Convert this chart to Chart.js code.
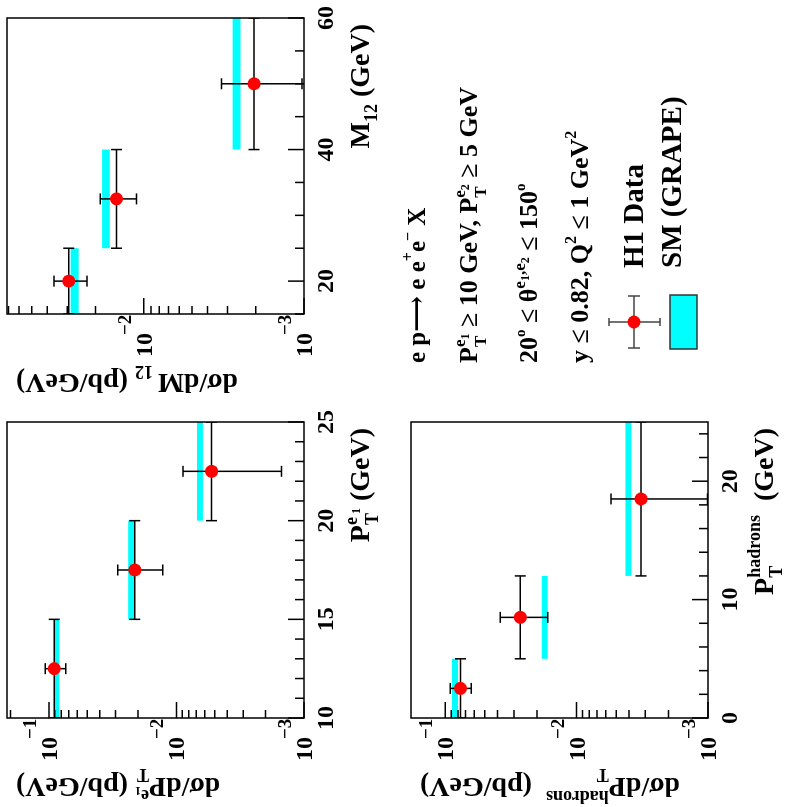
<!DOCTYPE html>
<html>
<head>
<meta charset="utf-8">
<script src="https://cdn.jsdelivr.net/npm/chart.js@4/dist/chart.umd.min.js"></script>
<style>
  body { margin: 0; background: #fff; overflow: hidden; }
  #page { position: absolute; left: 0; top: 807px; width: 807px; height: 785px;
          transform-origin: 0 0; transform: rotate(-90deg); background: #fff; }
  #page canvas { position: absolute; left: 0; top: 0; }
</style>
</head>
<body>
<div id="page">
  <canvas id="cE" width="807" height="785"></canvas>
  <canvas id="cM" width="807" height="785"></canvas>
  <canvas id="cH" width="807" height="785"></canvas>
</div>
<script>
// dsigma/dPT(e1)
const ptE_x = [12.5, 17.5, 22.5];
const ptE_binLo = [10, 15, 20];
const ptE_binHi = [15, 20, 25];
const ptE_y = [0.0908, 0.0212, 0.0053];
const ptE_yHi = [0.107, 0.0289, 0.0089];
const ptE_yLo = [0.0736, 0.0128, 0.0015];
const ptE_smLo = [0.0829, 0.0214, 0.0062];
const ptE_smHi = [0.0908, 0.0239, 0.0069];
const ptE_xLabels = [10, 15, 20, 25];

// dsigma/dM12
const m12_x = [20, 32.5, 50];
const m12_binLo = [15, 25, 40];
const m12_binHi = [25, 40, 60];
const m12_y = [0.0294, 0.0148, 0.00205];
const m12_yHi = [0.0364, 0.0187, 0.00327];
const m12_yLo = [0.0226, 0.0111, 0.00103];
const m12_smLo = [0.0255, 0.0163, 0.00249];
const m12_smHi = [0.0286, 0.0182, 0.00279];
const m12_xLabels = [20, 40, 60];

// dsigma/dPT(hadrons)
const ptH_x = [2.5, 8.5, 18.5];
const ptH_binLo = [0, 5, 12];
const ptH_binHi = [5, 12, 25];
const ptH_y = [0.0766, 0.0268, 0.00323];
const ptH_yHi = [0.0914, 0.0381, 0.00548];
const ptH_yLo = [0.0632, 0.0166, 0.00101];
const ptH_smLo = [0.0798, 0.0166, 0.00383];
const ptH_smHi = [0.0888, 0.0184, 0.00425];
const ptH_xLabels = [0, 10, 20];

const yDecades = [-1, -2, -3];

const W = 807, H = 785;
const FONT = '"Liberation Serif", "DejaVu Serif", serif';
function f(size) { return 'bold ' + size + 'px ' + FONT; }

// text in pieces: [text, size, dy, advance]
function drawRich(ctx, x, y, parts, align) {
  let w = 0;
  for (const p of parts) { ctx.font = f(p[1]); if (p[3] !== false) w += ctx.measureText(p[0]).width; }
  let cx = align === 'right' ? x - w : x;
  ctx.textAlign = 'left';
  ctx.textBaseline = 'alphabetic';
  for (const p of parts) {
    ctx.font = f(p[1]);
    ctx.fillText(p[0], cx, y + (p[2] || 0));
    if (p[3] !== false) cx += ctx.measureText(p[0]).width;
  }
}

function makePanel(id, p, extra) {
  const a0 = p.area;
  const panelPlugin = {
    id: 'h1panel',
    beforeDatasetsDraw(chart) {
      const ctx = chart.ctx, xs = chart.scales.x, ys = chart.scales.y, a = chart.chartArea;
      ctx.save();
      ctx.beginPath();
      ctx.rect(a.left, a.top, a.right - a.left, a.bottom - a.top);
      ctx.clip();
      ctx.fillStyle = '#00ffff';
      p.binLo.forEach((lo, i) => {
        const x0 = xs.getPixelForValue(lo), x1 = xs.getPixelForValue(p.binHi[i]);
        const y0 = ys.getPixelForValue(p.smHi[i]), y1 = ys.getPixelForValue(p.smLo[i]);
        ctx.fillRect(x0, y0, x1 - x0, y1 - y0);
      });
      ctx.strokeStyle = '#000';
      ctx.lineWidth = 1.5;
      p.x.forEach((xv, i) => {
        const px = xs.getPixelForValue(xv), py = ys.getPixelForValue(p.y[i]);
        const xl = xs.getPixelForValue(p.binLo[i]), xr = xs.getPixelForValue(p.binHi[i]);
        const yt = ys.getPixelForValue(p.yHi[i]), yb = ys.getPixelForValue(p.yLo[i]);
        const c = 5.5;
        ctx.beginPath();
        ctx.moveTo(xl, py); ctx.lineTo(xr, py);
        ctx.moveTo(xl, py - c); ctx.lineTo(xl, py + c);
        ctx.moveTo(xr, py - c); ctx.lineTo(xr, py + c);
        ctx.moveTo(px, yt); ctx.lineTo(px, yb);
        ctx.moveTo(px - c, yt); ctx.lineTo(px + c, yt);
        ctx.moveTo(px - c, yb); ctx.lineTo(px + c, yb);
        ctx.stroke();
      });
      ctx.restore();
    },
    afterDraw(chart) {
      const ctx = chart.ctx, xs = chart.scales.x, ys = chart.scales.y, a = chart.chartArea;
      ctx.save();
      ctx.strokeStyle = '#000';
      ctx.lineWidth = 1.5;
      ctx.strokeRect(a.left, a.top, a.right - a.left, a.bottom - a.top);
      ctx.beginPath();
      for (let v = p.xMin; v <= p.xMax + 1e-9; v += p.xStep) {
        const px = xs.getPixelForValue(v);
        const len = p.xLabels.includes(v) ? 16 : 9;
        ctx.moveTo(px, a.bottom); ctx.lineTo(px, a.bottom - len);
      }
      for (let d = -4; d <= 0; d++) {
        for (let k = 1; k <= 9; k++) {
          const v = k * Math.pow(10, d);
          if (v < p.yMin * 0.999 || v > p.yMax) continue;
          const py = ys.getPixelForValue(v);
          ctx.moveTo(a.left, py); ctx.lineTo(a.left + (k === 1 ? 16 : 8), py);
        }
      }
      ctx.stroke();
      ctx.fillStyle = '#000';
      ctx.font = f(24);
      ctx.textAlign = 'center';
      ctx.textBaseline = 'alphabetic';
      p.xLabels.forEach(v => ctx.fillText(String(v), xs.getPixelForValue(v), a.bottom + 29));
      yDecades.forEach(d => {
        const v = Math.pow(10, d);
        if (v > p.yMax * 1.001 || v < p.yMin * 0.999) return;
        const py = ys.getPixelForValue(v);
        ctx.font = f(24); ctx.textAlign = 'right';
        ctx.fillText('10', a.left - 19, py + 8);
        ctx.font = f(19); ctx.textAlign = 'left';
        ctx.fillText('\u2212' + (-d), a.left - 21, py - 13);
      });
      drawRich(ctx, a.right - 6, a.bottom + 65, p.xTitle, 'right');
      ctx.save();
      ctx.translate(a.left - 60, a.top + 9);
      ctx.rotate(-Math.PI / 2);
      drawRich(ctx, 0, 0, p.yTitle, 'right');
      ctx.restore();
      ctx.restore();
    }
  };
  return new Chart(document.getElementById(id), {
    type: 'scatter',
    data: {
      datasets: [{
        data: p.x.map((v, i) => ({ x: v, y: p.y[i] })),
        pointRadius: 6.5,
        pointHoverRadius: 6.5,
        pointBackgroundColor: '#ff0000',
        pointBorderWidth: 0
      }]
    },
    options: {
      responsive: false,
      animation: false,
      events: [],
      layout: { padding: { left: a0.l, top: a0.t, right: W - a0.r, bottom: H - a0.b } },
      scales: {
        x: { type: 'linear', min: p.xMin, max: p.xMax, display: false },
        y: { type: 'logarithmic', min: p.yMin, max: p.yMax, display: false }
      },
      plugins: { legend: { display: false }, tooltip: { enabled: false } }
    },
    plugins: extra ? [panelPlugin, extra] : [panelPlugin]
  });
}

// text block and key in the empty quarter
const infoPlugin = {
  id: 'info',
  afterDraw(chart) {
    const ctx = chart.ctx;
    ctx.save();
    ctx.fillStyle = '#000';
    const x0 = 444;
    drawRich(ctx, x0, 425, [['e p', 25], ['\u27F6', 25], [' e e', 25], ['+', 16, -12], ['e', 25], ['\u2212', 16, -12], [' X', 25]]);
    drawRich(ctx, x0, 477, [['P', 26], ['T', 17, 9, false], ['e', 17, -12], ['1', 12, -8], [' \u2265 10 GeV, P', 26],
      ['T', 17, 9, false], ['e', 17, -12], ['2', 12, -8], [' \u2265 5 GeV', 26]]);
    drawRich(ctx, x0, 537, [['20', 26], ['o', 15, -12], [' \u2264 \u03B8', 26], ['e', 17, -12], ['1', 12, -8], [',e', 17, -12], ['2', 12, -8],
      [' \u2264 150', 26], ['o', 15, -12]]);
    drawRich(ctx, x0, 588, [['y \u2264 0.82, Q', 26], ['2', 16, -12], [' \u2264 1 GeV', 26], ['2', 16, -12]]);
    drawRich(ctx, 539, 643, [['H1 Data', 29]]);
    drawRich(ctx, 539, 681, [['SM (GRAPE)', 29]]);
    // key: data marker
    const cx = 485, cy = 634;
    ctx.strokeStyle = '#444';
    ctx.lineWidth = 1.5;
    ctx.beginPath();
    ctx.moveTo(459, cy); ctx.lineTo(511, cy);
    ctx.moveTo(459, cy - 6); ctx.lineTo(459, cy + 6);
    ctx.moveTo(511, cy - 6); ctx.lineTo(511, cy + 6);
    ctx.moveTo(cx, 609); ctx.lineTo(cx, 660);
    ctx.moveTo(cx - 4, 609); ctx.lineTo(cx + 4, 609);
    ctx.moveTo(cx - 4, 660); ctx.lineTo(cx + 4, 660);
    ctx.stroke();
    ctx.fillStyle = '#ff0000';
    ctx.beginPath(); ctx.arc(cx, cy, 6.5, 0, Math.PI * 2); ctx.fill();
    // key: SM box
    ctx.fillStyle = '#00ffff';
    ctx.fillRect(458, 670, 54, 27);
    ctx.strokeStyle = '#333';
    ctx.strokeRect(458, 670, 54, 27);
    ctx.restore();
  }
};

makePanel('cE', {
  area: { l: 89, t: 7, r: 385, b: 304 },
  x: ptE_x, y: ptE_y, yHi: ptE_yHi, yLo: ptE_yLo, binLo: ptE_binLo, binHi: ptE_binHi,
  smLo: ptE_smLo, smHi: ptE_smHi, xLabels: ptE_xLabels,
  xMin: 10, xMax: 25, xStep: 1, yMin: 0.001, yMax: 0.213,
  xTitle: [['P', 28], ['T', 18, 9, false], ['e', 18, -12], [' 1', 12, -9], [' (GeV)', 28]],
  yTitle: [['d\u03C3/dP', 28], ['T', 18, 9, false], ['e', 18, -12], ['1', 12, -9], [' (pb/GeV)', 28]]
});

makePanel('cM', {
  area: { l: 493, t: 7, r: 789, b: 304 },
  x: m12_x, y: m12_y, yHi: m12_yHi, yLo: m12_yLo, binLo: m12_binLo, binHi: m12_binHi,
  smLo: m12_smLo, smHi: m12_smHi, xLabels: m12_xLabels,
  xMin: 15, xMax: 60, xStep: 5, yMin: 0.001, yMax: 0.0714,
  xTitle: [['M', 28], ['12', 18, 8], [' (GeV)', 28]],
  yTitle: [['d\u03C3/dM', 28], [' 12', 18, 8], [' (pb/GeV)', 28]]
});

makePanel('cH', {
  area: { l: 89, t: 411, r: 385, b: 708 },
  x: ptH_x, y: ptH_y, yHi: ptH_yHi, yLo: ptH_yLo, binLo: ptH_binLo, binHi: ptH_binHi,
  smLo: ptH_smLo, smHi: ptH_smHi, xLabels: ptH_xLabels,
  xMin: 0, xMax: 25, xStep: 2, yMin: 0.001, yMax: 0.182,
  xTitle: [['P', 28], ['T', 18, 9, false], ['hadrons', 18, -13], ['  (GeV)', 28]],
  yTitle: [['d\u03C3/dP', 28], ['T', 18, 9, false], ['hadrons', 18, -13], ['  (pb/GeV)', 28]]
}, infoPlugin);
</script>
</body>
</html>
